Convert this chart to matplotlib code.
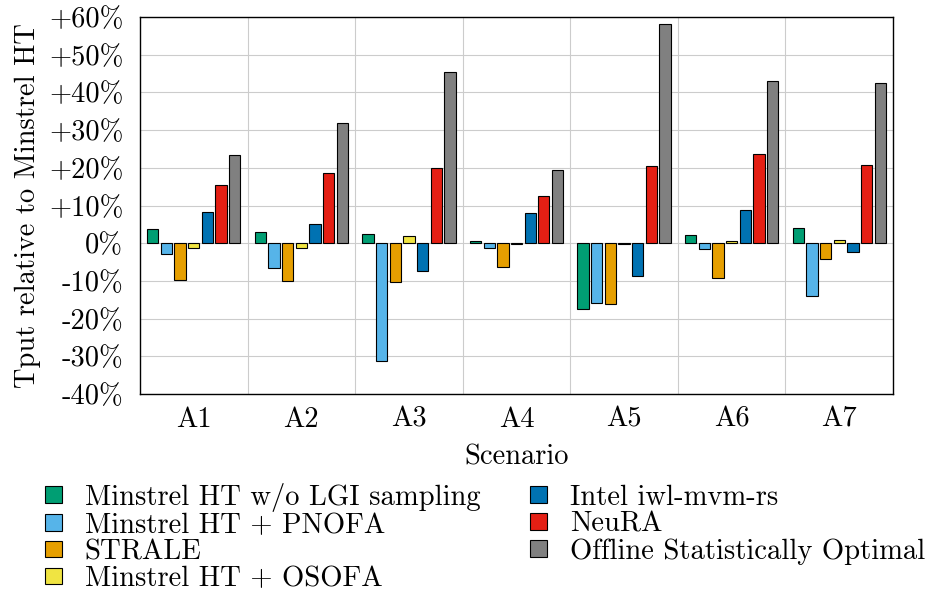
import numpy as np
import matplotlib
matplotlib.use('Agg')
import matplotlib.pyplot as plt
from matplotlib.ticker import FixedLocator

plt.rcParams['font.family'] = ['cmr10', 'DejaVu Serif']
plt.rcParams['mathtext.fontset'] = 'cm'
plt.rcParams['axes.unicode_minus'] = False

scenarios = ['A1', 'A2', 'A3', 'A4', 'A5', 'A6', 'A7']
series_names = [
    'Minstrel HT w/o LGI sampling',
    'Minstrel HT + PNOFA',
    'STRALE',
    'Minstrel HT + OSOFA',
    'Intel iwl-mvm-rs',
    'NeuRA',
    'Offline Statistically Optimal',
]
colors = ['#009E73', '#56B4E9', '#E69F00', '#F0E442', '#0072B2', '#E41F14', '#808080']

# throughput change in % vs Minstrel HT, one list per algorithm
no_lgi = [3.7, 2.9, 2.4, 0.7, -17.4, 2.1, 4.1]
pnofa = [-2.9, -6.6, -31.3, -1.2, -15.8, -1.5, -14.0]
strale = [-9.8, -10.0, -10.2, -6.4, -16.1, -9.1, -4.3]
osofa = [-1.3, -1.3, 1.8, -0.2, -0.2, 0.6, 0.9]
iwl = [8.4, 5.1, -7.4, 8.0, -8.6, 8.8, -2.4]
neura = [15.5, 18.6, 19.9, 12.4, 20.5, 23.6, 20.8]
optimal = [23.5, 31.9, 45.3, 19.5, 58.1, 43.1, 42.5]
values = [no_lgi, pnofa, strale, osofa, iwl, neura, optimal]

yticks = [-40, -30, -20, -10, 0, 10, 20, 30, 40, 50, 60]
ytick_labels = ['-40%', '-30%', '-20%', '-10%', '0%',
                '+10%', '+20%', '+30%', '+40%', '+50%', '+60%']

FS = 20.5

fig = plt.figure(figsize=(9.31, 5.93), dpi=100)
ax = fig.add_axes([0.1504, 0.3356, 0.8088, 0.6357])

x = np.arange(len(scenarios))
step = 0.127
width = 0.105
for i, (name, vals, c) in enumerate(zip(series_names, values, colors)):
    ax.bar(x + (i - 3) * step, vals, width, color=c, edgecolor='black',
           linewidth=0.8, label=name, zorder=3)

ax.set_xlim(-0.5, len(scenarios) - 0.5)
ax.set_ylim(-40, 60)
ax.set_xticks(x)
ax.set_xticklabels(scenarios)
ax.xaxis.set_minor_locator(FixedLocator(np.arange(0.5, len(scenarios) - 0.5, 1)))
ax.set_yticks(yticks)
ax.set_yticklabels(ytick_labels)
ax.tick_params(axis='both', which='both', length=0, labelsize=FS)
ax.tick_params(axis='y', pad=12)
ax.tick_params(axis='x', pad=9)
ax.grid(True, which='minor', axis='x', color='#cccccc', linewidth=0.8, zorder=0)
ax.grid(True, which='major', axis='y', color='#cccccc', linewidth=0.8, zorder=0)
for s in ax.spines.values():
    s.set_linewidth(1.0)

ax.set_xlabel('Scenario', fontsize=FS, labelpad=8)
ax.set_ylabel('Tput relative to Minstrel HT', fontsize=FS, labelpad=6)

fig.legend(loc='upper left', bbox_to_anchor=(0.048, 0.186), ncol=2,
           frameon=False, fontsize=20.6, handlelength=0.6, handleheight=0.5,
           handletextpad=0.8, labelspacing=0.02, columnspacing=1.75,
           borderpad=0, borderaxespad=0)

fig.savefig('out.png', dpi=100)
